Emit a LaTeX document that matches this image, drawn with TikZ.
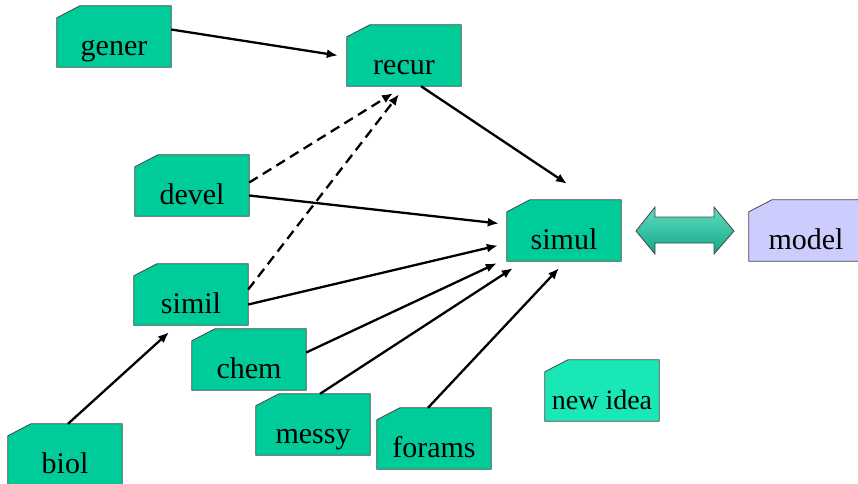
\documentclass[tikz,border=0pt]{standalone}
\usepackage{fontspec}
\setmainfont{Liberation Serif}
\usetikzlibrary{calc,arrows.meta}
\pgfdeclarelayer{background}
\pgfsetlayers{background,main}

\definecolor{cardgreen}{RGB}{0,204,153}
\definecolor{cardaqua}{RGB}{25,232,182}
\definecolor{cardlilac}{RGB}{204,204,255}
\definecolor{cardline}{RGB}{70,70,70}
\definecolor{arrowtop}{RGB}{95,218,192}
\definecolor{arrowbot}{RGB}{18,170,134}

\tikzset{
  card/.style={inner sep=0pt, minimum width=114pt, minimum height=61pt,
    text height=38pt, text depth=1pt, font=\fontsize{30}{36}\selectfont},
  smallcard/.style={card, font=\fontsize{28}{33}\selectfont},
  link/.style={line width=2.3pt, -{Latex[length=11pt,width=9pt]}},
  dashlink/.style={link, dash pattern=on 10pt off 6pt},
}

% rectangle with its top-left corner cut off, drawn behind node #1
\newcommand\cardbox[2]{%
  \filldraw[fill=#2, draw=cardline, line width=0.8pt]
    ($(#1.north west)+(0,12)$) -- ($(#1.north west)+(23,0)$) --
    (#1.north east) -- (#1.south east) -- (#1.south west) -- cycle;}

\begin{document}
\begin{tikzpicture}[x=1pt, y=-1pt]
  \useasboundingbox (0,0) rectangle (858,483);

  \node[card] (gener)  at (114,36.5)  {gener};
  \node[card] (recur)  at (404,55.5)  {recur};
  \node[card] (devel)  at (192,185.5) {devel};
  \node[card] (simil)  at (191,294.5) {simil};
  \node[card] (chem)   at (249,359.5) {chem};
  \node[card] (messy)  at (313,424.5) {messy};
  \node[card] (forams) at (434,438.5) {forams};
  \node[card] (biol)   at (65,454.5)  {biol};
  \node[card] (simul)  at (564,230.5) {simul};
  \node[card] (model)  at (806,230.5) {model};
  \node[smallcard] (newidea) at (602,390.5) {new idea};

  \begin{pgfonlayer}{background}
    \foreach \n in {gener,recur,devel,simil,chem,messy,forams,biol,simul}
      {\cardbox{\n}{cardgreen}}
    \cardbox{model}{cardlilac}
    \cardbox{newidea}{cardaqua}
  \end{pgfonlayer}

  % two-way block arrow between simul and model
  \path[draw=cardline, line width=0.8pt, top color=arrowtop, bottom color=arrowbot]
    (636,231) -- (655,207) -- (655,217) -- (714,217) -- (714,207) -- (734,231)
    -- (714,254) -- (714,243) -- (655,243) -- (655,254) -- cycle;

  % influences
  \draw[link] ($(gener.east)+(0,-7)$) -- ($(recur.west)+(-9,0)$);
  \draw[link] ($(recur.south)+(17,0)$) -- ($(simul.north)+(3,-16)$);
  \draw[dashlink] ($(devel.east)+(0,-3)$) -- ($(recur.south)+(-11,7)$);
  \draw[dashlink] ($(simil.east)+(0,-5)$) -- ($(recur.south)+(-5,8)$);
  \draw[link] ($(devel.east)+(0,10)$) -- ($(simul.west)+(-8,-7)$);
  \draw[link] ($(simil.east)+(0,10)$) -- ($(simul.west)+(-9,15)$);
  \draw[link] ($(chem.east)+(0,-7)$) -- ($(simul.south west)+(-10,2)$);
  \draw[link] ($(messy.north)+(7,0)$) -- ($(simul.south west)+(6,7)$);
  \draw[link] ($(forams.north)+(-6,0)$) -- ($(simul.south)+(-5,7)$);
  \draw[link] ($(biol.north)+(3,0)$) -- ($(simil.south)+(-22,7)$);
\end{tikzpicture}
\end{document}
